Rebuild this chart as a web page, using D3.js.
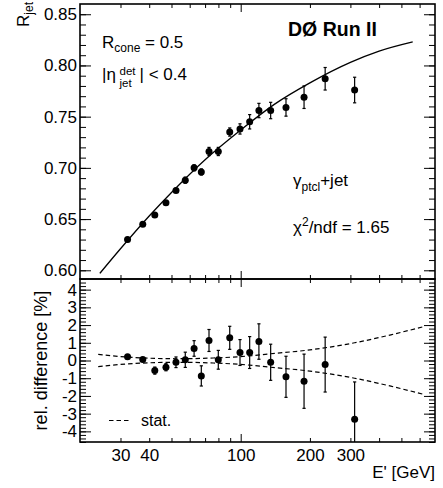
<!DOCTYPE html>
<html>
<head>
<meta charset="utf-8">
<script src="https://cdn.jsdelivr.net/npm/d3@7/dist/d3.min.js"></script>
<style>
  body { margin: 0; background: #fff; }
  text { font-family: "Liberation Sans", Arial, Helvetica, sans-serif; fill: #000; }
</style>
</head>
<body>
<div id="root"></div>
<script>
'use strict';

// measured points, E' in GeV
var energy = [32.2, 37.5, 42.3, 47.3, 52.3, 57.4, 62.7, 67.4, 72.8, 79.9, 89.6, 99.3, 109.4, 120, 135, 157.4, 188.6, 233, 313];
var response = [0.630, 0.645, 0.654, 0.666, 0.678, 0.688, 0.700, 0.696, 0.716, 0.716, 0.735, 0.738, 0.745, 0.756, 0.756, 0.759, 0.769, 0.787, 0.776];
var responseErr = [0.002, 0.002, 0.002, 0.002, 0.002, 0.003, 0.003, 0.003, 0.004, 0.004, 0.004, 0.005, 0.007, 0.007, 0.008, 0.0085, 0.011, 0.011, 0.0125];
var relDiff = [0.21, 0.06, -0.57, -0.38, -0.10, 0.04, 0.68, -0.87, 1.13, 0.04, 1.28, 0.45, 0.45, 1.07, -0.10, -0.92, -1.17, -0.23, -3.32];
var relDiffErr = [0.1, 0.1, 0.2, 0.2, 0.3, 0.43, 0.44, 0.57, 0.62, 0.53, 0.65, 0.73, 0.9, 1.0, 1.02, 1.16, 1.53, 1.55, 2.11];

// fitted curve
var fitE = [24.4, 30, 40, 50, 70, 100, 140, 200, 300, 400, 560];
var fitR = [0.597, 0.621, 0.653, 0.676, 0.708, 0.737, 0.762, 0.783, 0.803, 0.814, 0.823];

// stat. uncertainty band (+/- %)
var statE = [24, 30, 40, 52, 76, 100, 135, 200, 313, 450, 620];
var statBand = [0.35, 0.22, 0.13, 0.10, 0.14, 0.22, 0.38, 0.60, 1.00, 1.45, 1.90];

var xMinorTicks = [30, 40, 50, 60, 70, 80, 90, 200, 300, 400, 500, 600];
var xMajorTicks = [100];
var xTickLabels = [30, 40, 100, 200, 300];
var yTopMajor = [0.60, 0.65, 0.70, 0.75, 0.80, 0.85];
var yBotMajor = [-4, -3, -2, -1, 0, 1, 2, 3, 4];

var W = 443, H = 488;
var padL = 80, padR = 435, padT = 4, padM = 279, padB = 442;

var svg = d3.select('#root').append('svg')
  .attr('width', W)
  .attr('height', H);

svg.append('rect').attr('width', W).attr('height', H).attr('fill', '#fff');

var x = d3.scaleLog().domain([20, 700]).range([padL, padR]);
var yTop = d3.scaleLinear().domain([0.5915, 0.86]).range([padM, padT]);
var yBot = d3.scaleLinear().domain([-4.6, 4.6]).range([padB, padM]);

var defs = svg.append('defs');
defs.append('clipPath').attr('id', 'clipTop').append('rect')
  .attr('x', padL).attr('y', padT).attr('width', padR - padL).attr('height', padM - padT);
defs.append('clipPath').attr('id', 'clipBot').append('rect')
  .attr('x', padL).attr('y', padM).attr('width', padR - padL).attr('height', padB - padM);

function steps(a, b, step) {
  return d3.range(Math.round((b - a) / step) + 1).map(k => +(a + k * step).toFixed(4));
}

function drawAxes(y, yMinor, yMajor, y0, y1, fmt) {
  var g = svg.append('g');
  // y ticks, left and right, drawn inward
  g.append('g').attr('transform', `translate(${padL},0)`)
    .call(d3.axisLeft(y).tickValues(yMinor).tickSize(-6).tickFormat(''));
  g.append('g').attr('transform', `translate(${padL},0)`)
    .call(d3.axisLeft(y).tickValues(yMajor).tickSize(-11).tickPadding(3).tickFormat(fmt));
  g.append('g').attr('transform', `translate(${padR},0)`)
    .call(d3.axisRight(y).tickValues(yMinor).tickSize(-6).tickFormat(''));
  g.append('g').attr('transform', `translate(${padR},0)`)
    .call(d3.axisRight(y).tickValues(yMajor).tickSize(-11).tickFormat(''));
  // x ticks, top and bottom, drawn inward
  g.append('g').attr('transform', `translate(0,${y1})`)
    .call(d3.axisBottom(x).tickValues(xMinorTicks).tickSize(-4).tickFormat(''));
  g.append('g').attr('transform', `translate(0,${y1})`)
    .call(d3.axisBottom(x).tickValues(xMajorTicks).tickSize(-8).tickFormat(''));
  g.append('g').attr('transform', `translate(0,${y0})`)
    .call(d3.axisTop(x).tickValues(xMinorTicks).tickSize(-4).tickFormat(''));
  g.append('g').attr('transform', `translate(0,${y0})`)
    .call(d3.axisTop(x).tickValues(xMajorTicks).tickSize(-8).tickFormat(''));

  g.selectAll('.domain').remove();
  g.selectAll('.tick line').attr('stroke', '#000').attr('stroke-width', 1);
  g.selectAll('.tick text').attr('font-size', 17).attr('font-family', '"Liberation Sans", Arial, sans-serif');

  svg.append('rect')
    .attr('x', padL).attr('y', y0)
    .attr('width', padR - padL).attr('height', y1 - y0)
    .attr('fill', 'none').attr('stroke', '#000').attr('stroke-width', 1.6);
}

drawAxes(yTop, steps(0.60, 0.85, 0.01), yTopMajor, padT, padM, d3.format('.2f'));
drawAxes(yBot, steps(-4.6, 4.6, 0.2), yBotMajor, padM, padB, d => String(d));

// x tick labels under the lower panel
svg.append('g').attr('transform', `translate(0,${padB})`)
  .call(d3.axisBottom(x).tickValues(xTickLabels).tickSize(0).tickPadding(7).tickFormat(d3.format('d')))
  .call(g => g.select('.domain').remove())
  .selectAll('text').attr('font-size', 17).attr('font-family', '"Liberation Sans", Arial, sans-serif');

// upper panel: fit curve + points
var pts = energy.map((e, k) => ({ e: e, r: response[k], er: responseErr[k], d: relDiff[k], ed: relDiffErr[k] }));

var gTop = svg.append('g').attr('clip-path', 'url(#clipTop)');
gTop.append('path')
  .datum(fitE.map((e, k) => [e, fitR[k]]))
  .attr('fill', 'none').attr('stroke', '#000').attr('stroke-width', 1.3)
  .attr('d', d3.line().x(d => x(d[0])).y(d => yTop(d[1])).curve(d3.curveMonotoneX));

function errorBars(g, y, val, err) {
  var eb = g.selectAll('g.eb').data(pts).enter().append('g');
  eb.append('line')
    .attr('x1', d => x(d.e)).attr('x2', d => x(d.e))
    .attr('y1', d => y(val(d) - err(d))).attr('y2', d => y(val(d) + err(d)))
    .attr('stroke', '#000').attr('stroke-width', 1.2);
  [-1, 1].forEach(s => {
    eb.append('line')
      .attr('x1', d => x(d.e) - 1.6).attr('x2', d => x(d.e) + 1.6)
      .attr('y1', d => y(val(d) + s * err(d))).attr('y2', d => y(val(d) + s * err(d)))
      .attr('stroke', '#000').attr('stroke-width', 1.2);
  });
  g.selectAll('circle').data(pts).enter().append('circle')
    .attr('cx', d => x(d.e)).attr('cy', d => y(val(d)))
    .attr('r', 3.5).attr('fill', '#000');
}

errorBars(gTop, yTop, d => d.r, d => d.er);

// lower panel: stat band + relative differences
var gBot = svg.append('g').attr('clip-path', 'url(#clipBot)');
[1, -1].forEach(s => {
  gBot.append('path')
    .datum(statE.map((e, k) => [e, s * statBand[k]]))
    .attr('fill', 'none').attr('stroke', '#000').attr('stroke-width', 1.2)
    .attr('stroke-dasharray', '4.5,3')
    .attr('d', d3.line().x(d => x(d[0])).y(d => yBot(d[1])).curve(d3.curveMonotoneX));
});
errorBars(gBot, yBot, d => d.d, d => d.ed);

// legend
svg.append('line')
  .attr('x1', 109).attr('x2', 131).attr('y1', 420.5).attr('y2', 420.5)
  .attr('stroke', '#000').attr('stroke-width', 1.2).attr('stroke-dasharray', '4.5,3');
svg.append('text').attr('x', 141).attr('y', 426).attr('font-size', 16).text('stat.');

// axis titles
var rl = svg.append('text')
  .attr('transform', 'translate(28.5,2) rotate(-90)')
  .attr('text-anchor', 'end').attr('font-size', 17);
rl.append('tspan').text('R');
rl.append('tspan').attr('font-size', 12).attr('dy', 4).text('jet');

svg.append('text')
  .attr('transform', `translate(47,${yBot(0)}) rotate(-90)`)
  .attr('text-anchor', 'middle').attr('font-size', 18)
  .text('rel. difference [%]');

svg.append('text')
  .attr('x', padR).attr('y', 478).attr('text-anchor', 'end').attr('font-size', 17)
  .text("E' [GeV]");

// labels in the upper panel
svg.append('text').attr('x', 288).attr('y', 36)
  .attr('font-size', 19.5).attr('font-weight', 'bold').text('DØ Run II');

var rc = svg.append('text').attr('x', 102).attr('y', 48).attr('font-size', 17);
rc.append('tspan').text('R');
rc.append('tspan').attr('font-size', 12).attr('dy', 4).text('cone');
rc.append('tspan').attr('dy', -4).text(' = 0.5');

svg.append('text').attr('x', 102).attr('y', 80).attr('font-size', 17).text('|η');
svg.append('text').attr('x', 119.5).attr('y', 74.5).attr('font-size', 11.5).text('det');
svg.append('text').attr('x', 119.5).attr('y', 86.5).attr('font-size', 11.5).text('jet');
svg.append('text').attr('x', 139.5).attr('y', 80).attr('font-size', 17).text('| < 0.4');

var gj = svg.append('text').attr('x', 293).attr('y', 186).attr('font-size', 17);
gj.append('tspan').text('γ');
gj.append('tspan').attr('font-size', 12).attr('dy', 5).text('ptcl');
gj.append('tspan').attr('dy', -5).text('+jet');

var chi = svg.append('text').attr('x', 293).attr('y', 233).attr('font-size', 17);
chi.append('tspan').text('χ');
chi.append('tspan').attr('font-size', 12).attr('dy', -7).text('2');
chi.append('tspan').attr('dy', 7).text('/ndf = 1.65');
</script>
</body>
</html>
